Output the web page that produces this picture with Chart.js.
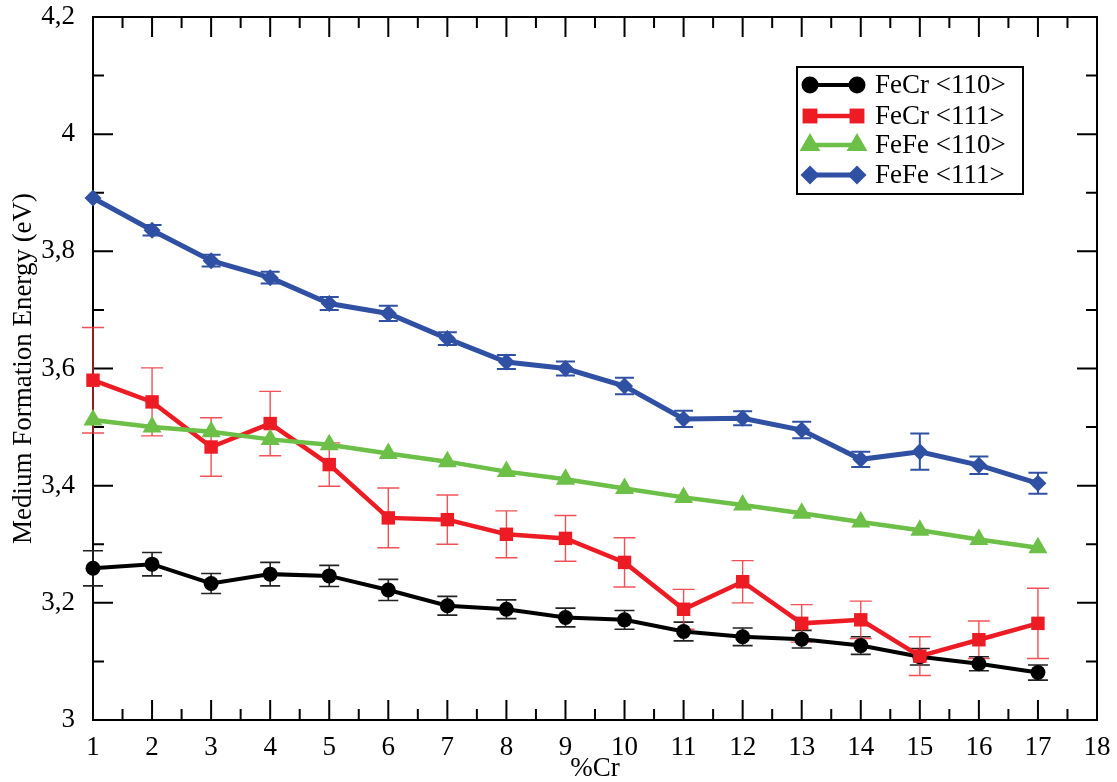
<!DOCTYPE html>
<html>
<head>
<meta charset="utf-8">
<script src="https://cdn.jsdelivr.net/npm/chart.js@4/dist/chart.umd.min.js"></script>
<style>
  html, body { margin: 0; padding: 0; background: #fff; }
  #wrap { width: 1117px; height: 782px; position: relative; }
</style>
</head>
<body>
<div id="wrap"><canvas id="chartEnergia"></canvas></div>
<script>
// dados
const percentCr = [1, 2, 3, 4, 5, 6, 7, 8, 9, 10, 11, 12, 13, 14, 15, 16, 17];

const fecr110 = [3.259, 3.266, 3.233, 3.249, 3.246, 3.222, 3.195, 3.189, 3.175, 3.171, 3.151, 3.142, 3.138, 3.127, 3.108, 3.096, 3.081];
const fecr110Err = [0.03, 0.02, 0.017, 0.02, 0.018, 0.018, 0.016, 0.016, 0.016, 0.016, 0.016, 0.015, 0.015, 0.015, 0.014, 0.012, 0.013];

const fecr111 = [3.580, 3.543, 3.466, 3.506, 3.436, 3.345, 3.342, 3.317, 3.310, 3.269, 3.189, 3.236, 3.165, 3.171, 3.109, 3.137, 3.165];
const fecr111Err = [0.09, 0.058, 0.05, 0.055, 0.037, 0.051, 0.042, 0.04, 0.039, 0.042, 0.034, 0.036, 0.032, 0.032, 0.033, 0.032, 0.06];

const fefe110 = [3.512, 3.500, 3.492, 3.479, 3.470, 3.455, 3.441, 3.424, 3.411, 3.395, 3.380, 3.367, 3.353, 3.338, 3.324, 3.308, 3.294];

const fefe111 = [3.891, 3.836, 3.784, 3.755, 3.711, 3.694, 3.651, 3.611, 3.600, 3.570, 3.514, 3.515, 3.495, 3.445, 3.458, 3.435, 3.404];
const fefe111Err = [0, 0.009, 0.01, 0.01, 0.011, 0.013, 0.011, 0.012, 0.012, 0.014, 0.014, 0.012, 0.014, 0.013, 0.031, 0.015, 0.018];

const seriesLabels = ["FeCr <110>", "FeCr <111>", "FeFe <110>", "FeFe <111>"];
const yTickLabels = ["3", "3,2", "3,4", "3,6", "3,8", "4", "4,2"];

const FONTE = '"Liberation Serif", "Times New Roman", Tinos, "Nimbus Roman", "Noto Serif", "DejaVu Serif", serif';

function pontos(valores) {
  return valores.map(function (v, i) {
    return { x: percentCr[i], y: v };
  });
}

// moldura com ticks para dentro nos quatro lados
const molduraPlugin = {
  id: "moldura",
  beforeDatasetsDraw(chart) {
    const ctx = chart.ctx;
    const a = chart.chartArea;
    const x = chart.scales.x;
    const y = chart.scales.y;
    ctx.save();
    ctx.strokeStyle = "#000";
    ctx.lineWidth = 2;
    ctx.strokeRect(a.left, a.top, a.right - a.left, a.bottom - a.top);
    ctx.beginPath();
    x.ticks.forEach(function (t, i) {
      const px = x.getPixelForValue(t.value);
      ctx.moveTo(px, a.bottom); ctx.lineTo(px, a.bottom - 20);
      ctx.moveTo(px, a.top); ctx.lineTo(px, a.top + 20);
      if (i < x.ticks.length - 1) {
        const pm = x.getPixelForValue((t.value + x.ticks[i + 1].value) / 2);
        ctx.moveTo(pm, a.bottom); ctx.lineTo(pm, a.bottom - 11);
        ctx.moveTo(pm, a.top); ctx.lineTo(pm, a.top + 11);
      }
    });
    y.ticks.forEach(function (t, i) {
      const py = y.getPixelForValue(t.value);
      ctx.moveTo(a.left, py); ctx.lineTo(a.left + 20, py);
      ctx.moveTo(a.right, py); ctx.lineTo(a.right - 20, py);
      if (i < y.ticks.length - 1) {
        const pm = y.getPixelForValue((t.value + y.ticks[i + 1].value) / 2);
        ctx.moveTo(a.left, pm); ctx.lineTo(a.left + 11, pm);
        ctx.moveTo(a.right, pm); ctx.lineTo(a.right - 11, pm);
      }
    });
    ctx.stroke();

    // barras de erro
    chart.data.datasets.forEach(function (ds) {
      if (!ds.erros) return;
      ctx.strokeStyle = ds.corErro;
      ctx.lineWidth = ds.larguraErro;
      ctx.beginPath();
      ds.data.forEach(function (p, i) {
        const e = ds.erros[i];
        if (!e) return;
        const px = x.getPixelForValue(p.x);
        const yTop = y.getPixelForValue(p.y + e);
        const yBot = y.getPixelForValue(p.y - e);
        const c = ds.capErro / 2;
        ctx.moveTo(px, yTop); ctx.lineTo(px, yBot);
        ctx.moveTo(px - c, yTop); ctx.lineTo(px + c, yTop);
        ctx.moveTo(px - c, yBot); ctx.lineTo(px + c, yBot);
      });
      ctx.stroke();
    });
    ctx.restore();
  },
};

// legenda no estilo do grafico original
const legendaPlugin = {
  id: "legendaCustom",
  afterDraw(chart) {
    const ctx = chart.ctx;
    const bx = 797, by = 67, bw = 226, bh = 127;
    ctx.save();
    ctx.fillStyle = "#fff";
    ctx.fillRect(bx, by, bw, bh);
    ctx.strokeStyle = "#000";
    ctx.lineWidth = 2;
    ctx.strokeRect(bx, by, bw, bh);
    const linhas = [85, 116, 145, 175];
    chart.data.datasets.forEach(function (ds, i) {
      const yy = linhas[i];
      ctx.strokeStyle = ds.borderColor;
      ctx.lineWidth = ds.borderWidth;
      ctx.beginPath();
      ctx.moveTo(810, yy);
      ctx.lineTo(857, yy);
      ctx.stroke();
      const opts = {
        pointStyle: ds.pointStyle,
        radius: ds.pointRadius + 1,
        rotation: 0,
        borderWidth: 0,
      };
      ctx.fillStyle = ds.backgroundColor;
      ctx.strokeStyle = ds.backgroundColor;
      Chart.helpers.drawPoint(ctx, opts, 810, yy);
      Chart.helpers.drawPoint(ctx, opts, 857, yy);
      ctx.fillStyle = "#000";
      ctx.font = "27px " + FONTE;
      ctx.textBaseline = "middle";
      ctx.textAlign = "left";
      ctx.fillText(seriesLabels[i], 875, yy + 1);
    });
    ctx.restore();
  },
};

function criarSerie(label, valores, cor, estilo, raio, espessura, ordem) {
  return {
    label: label,
    data: pontos(valores),
    borderColor: cor,
    backgroundColor: cor,
    pointBackgroundColor: cor,
    pointBorderColor: cor,
    pointStyle: estilo,
    pointRadius: raio,
    pointHoverRadius: raio,
    pointBorderWidth: 0,
    borderWidth: espessura,
    tension: 0,
    fill: false,
    clip: false,
    order: ordem,
  };
}

const serieFeCr110 = criarSerie(seriesLabels[0], fecr110, "#000000", "circle", 7.5, 4, 4);
serieFeCr110.erros = fecr110Err;
serieFeCr110.corErro = "#222";
serieFeCr110.larguraErro = 1.6;
serieFeCr110.capErro = 20;

const serieFeCr111 = criarSerie(seriesLabels[1], fecr111, "#ed1c24", "rect", 9.5, 4.5, 3);
serieFeCr111.erros = fecr111Err;
serieFeCr111.corErro = "rgba(238, 50, 56, 0.85)";
serieFeCr111.larguraErro = 1.4;
serieFeCr111.capErro = 22;

const serieFeFe110 = criarSerie(seriesLabels[2], fefe110, "#6cbf47", "triangle", 11, 4.5, 2);

const serieFeFe111 = criarSerie(seriesLabels[3], fefe111, "#3050a3", "rectRot", 8.5, 5, 1);
serieFeFe111.erros = fefe111Err;
serieFeFe111.corErro = "#3050a3";
serieFeFe111.larguraErro = 2;
serieFeFe111.capErro = 19;

new Chart(document.getElementById("chartEnergia"), {
  type: "line",
  data: {
    datasets: [serieFeCr110, serieFeCr111, serieFeFe110, serieFeFe111],
  },
  options: {
    responsive: true,
    maintainAspectRatio: false,
    animation: false,
    layout: {
      padding: { top: 17, right: 20, left: 0, bottom: 0 },
    },
    plugins: {
      legend: { display: false },
      tooltip: { enabled: false },
    },
    scales: {
      x: {
        type: "linear",
        min: 1,
        max: 18,
        afterFit: function (scale) {
          scale.height = 62;
          scale.paddingLeft = 0;
          scale.paddingRight = 0;
        },
        ticks: {
          stepSize: 1,
          color: "#000",
          padding: 4,
          font: { family: FONTE, size: 27 },
          maxRotation: 0,
        },
        grid: { display: false },
        border: { display: false },
        title: {
          display: true,
          text: "%Cr",
          color: "#000",
          font: { family: FONTE, size: 27, lineHeight: 1 },
          padding: { top: 0, bottom: 0 },
        },
      },
      y: {
        type: "linear",
        min: 3,
        max: 4.2,
        afterFit: function (scale) {
          scale.width = 93;
          scale.paddingTop = 0;
          scale.paddingBottom = 0;
        },
        ticks: {
          stepSize: 0.2,
          color: "#000",
          padding: 10,
          font: { family: FONTE, size: 27 },
          callback: function (value, index) {
            return yTickLabels[index];
          },
        },
        grid: { display: false },
        border: { display: false },
        title: {
          display: true,
          text: "Medium Formation Energy (eV)",
          color: "#000",
          font: { family: FONTE, size: 27, lineHeight: 1.2 },
          padding: { top: 8, bottom: 0 },
        },
      },
    },
  },
  plugins: [molduraPlugin, legendaPlugin],
});
</script>
</body>
</html>
